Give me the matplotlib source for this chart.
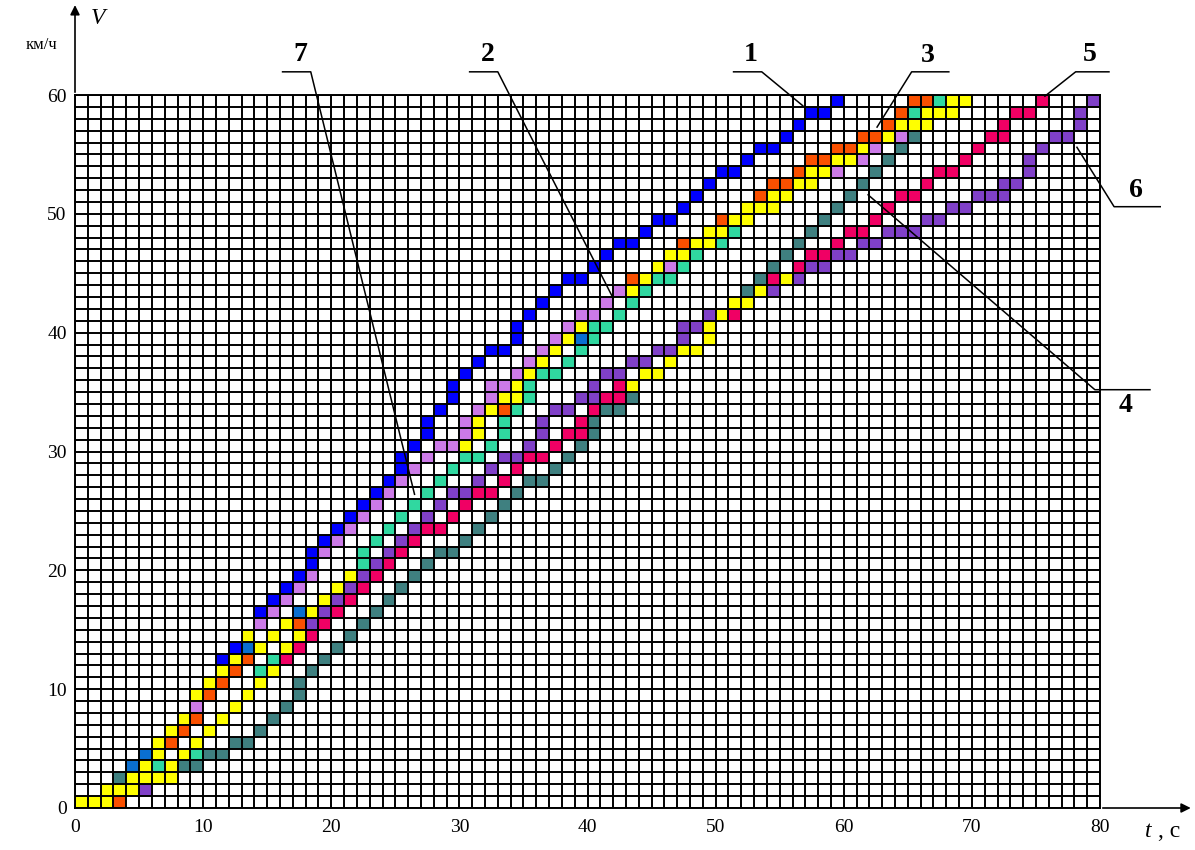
import matplotlib.pyplot as plt

plt.rcParams['font.family'] = ['Liberation Serif', 'DejaVu Serif']

# Coloured cells (t, V) = lower-left corner of each 1 s x 1 km/h square
s1_blue = [(11, 12), (12, 13), (14, 16), (15, 17), (16, 18), (17, 19), (18, 20), (18, 21),
           (19, 22), (20, 23), (21, 24), (22, 25), (23, 26), (24, 27), (25, 28), (25, 29),
           (26, 30), (27, 31), (27, 32), (28, 33), (29, 34), (29, 35), (30, 36), (31, 37),
           (32, 38), (33, 38), (34, 39), (34, 40), (35, 41), (36, 42), (37, 43), (38, 44),
           (39, 44), (40, 45), (41, 46), (42, 47), (43, 47), (44, 48), (45, 49), (46, 49),
           (47, 50), (48, 51), (49, 52), (50, 53), (51, 53), (52, 54), (53, 55), (54, 55),
           (55, 56), (56, 57), (57, 58), (58, 58), (59, 59)]
s2_violet = [(9, 8), (14, 15), (15, 16), (16, 17), (17, 18), (18, 19), (19, 21), (20, 22),
             (21, 23), (22, 24), (23, 25), (24, 26), (25, 27), (26, 28), (27, 29), (28, 30),
             (29, 30), (30, 31), (30, 32), (31, 33), (32, 34), (32, 35), (33, 35), (34, 36),
             (35, 37), (36, 38), (37, 39), (38, 40), (39, 41), (40, 41), (41, 42), (42, 43),
             (46, 45), (59, 53), (61, 54), (62, 55), (64, 56)]
s3_orange = [(3, 0), (7, 5), (8, 6), (9, 7), (10, 9), (11, 10), (12, 11), (13, 12), (17, 15),
             (33, 33), (43, 44), (47, 47), (50, 49), (53, 51), (54, 52), (55, 52), (56, 53),
             (57, 54), (58, 54), (59, 55), (60, 55), (61, 56), (62, 56), (63, 57), (64, 58),
             (65, 59), (66, 59)]
s4_teal = [(3, 2), (8, 3), (9, 3), (10, 4), (11, 4), (12, 5), (13, 5), (14, 6), (15, 7),
           (16, 8), (17, 9), (17, 10), (18, 11), (19, 12), (20, 13), (21, 14), (22, 15),
           (23, 16), (24, 17), (25, 18), (26, 19), (27, 20), (28, 21), (29, 21), (30, 22),
           (31, 23), (32, 24), (33, 25), (34, 26), (35, 27), (36, 27), (37, 28), (38, 29),
           (39, 30), (40, 31), (40, 32), (41, 33), (42, 33), (43, 34), (52, 43), (53, 44),
           (54, 45), (55, 46), (56, 47), (57, 48), (58, 49), (59, 50), (60, 51), (61, 52),
           (62, 53), (63, 54), (64, 55), (65, 56)]
s5_crimson = [(16, 12), (17, 13), (18, 14), (19, 15), (20, 16), (21, 17), (22, 18), (23, 19),
              (24, 20), (25, 21), (26, 22), (27, 23), (28, 23), (29, 24), (30, 25), (31, 26),
              (32, 26), (33, 27), (34, 28), (35, 29), (36, 29), (37, 30), (38, 31), (39, 31),
              (39, 32), (40, 33), (41, 34), (42, 34), (42, 35), (51, 41), (54, 44), (56, 45),
              (57, 46), (58, 46), (59, 47), (60, 48), (61, 48), (62, 49), (63, 50), (64, 51),
              (65, 51), (66, 52), (67, 53), (68, 53), (69, 54), (70, 55), (71, 56), (72, 56),
              (72, 57), (73, 58), (74, 58), (75, 59)]
s6_purple = [(5, 1), (18, 15), (19, 16), (20, 17), (21, 18), (22, 19), (23, 20), (24, 21),
             (25, 22), (26, 23), (27, 24), (28, 25), (29, 26), (30, 26), (31, 27), (32, 28),
             (33, 29), (34, 29), (35, 30), (36, 31), (36, 32), (37, 33), (38, 33), (39, 34),
             (40, 34), (40, 35), (41, 36), (42, 36), (43, 37), (44, 37), (45, 38), (46, 38),
             (47, 39), (47, 40), (48, 40), (49, 41), (54, 43), (56, 44), (57, 45), (58, 45),
             (59, 46), (60, 46), (61, 47), (62, 47), (63, 48), (64, 48), (65, 48), (66, 49),
             (67, 49), (68, 50), (69, 50), (70, 51), (71, 51), (72, 51), (72, 52), (73, 52),
             (74, 53), (74, 54), (75, 55), (76, 56), (77, 56), (78, 57), (78, 58), (79, 59)]
s7_mint = [(6, 3), (9, 4), (14, 11), (15, 12), (22, 20), (22, 21), (23, 22), (24, 23),
           (25, 24), (26, 25), (27, 26), (28, 27), (29, 28), (30, 29), (31, 29), (32, 30),
           (33, 31), (33, 32), (34, 33), (35, 34), (35, 35), (36, 36), (37, 36), (38, 37),
           (39, 38), (40, 39), (40, 40), (41, 40), (42, 41), (43, 42), (44, 43), (45, 44),
           (46, 44), (47, 45), (48, 46), (50, 47), (51, 48), (65, 58), (67, 59)]
# cells where several curves coincide
common_yellow = [(0, 0), (1, 0), (2, 0), (2, 1), (3, 1), (4, 1), (4, 2), (5, 2), (6, 2), (7, 2),
                 (5, 3), (7, 3), (6, 4), (8, 4), (6, 5), (9, 5), (7, 6), (10, 6), (8, 7),
                 (11, 7), (12, 8), (9, 9), (13, 9), (10, 10), (14, 10), (11, 11), (15, 11),
                 (12, 12), (14, 13), (16, 13), (13, 14), (15, 14), (17, 14), (16, 15),
                 (18, 16), (19, 17), (20, 18), (21, 19), (30, 30), (31, 31), (31, 32),
                 (32, 33), (33, 34), (34, 34), (34, 35), (43, 35), (35, 36), (44, 36),
                 (45, 36), (36, 37), (46, 37), (37, 38), (47, 38), (48, 38), (38, 39),
                 (49, 39), (39, 40), (49, 40), (50, 41), (51, 42), (52, 42), (43, 43),
                 (53, 43), (44, 44), (55, 44), (45, 45), (46, 46), (47, 46), (48, 47),
                 (49, 47), (49, 48), (50, 48), (51, 49), (52, 49), (52, 50), (53, 50),
                 (54, 50), (54, 51), (55, 51), (56, 52), (57, 52), (57, 53), (58, 53),
                 (59, 54), (60, 54), (61, 55), (63, 56), (64, 57), (65, 57), (66, 57),
                 (66, 58), (67, 58), (68, 58), (68, 59), (69, 59)]
common_blue = [(4, 3), (5, 4), (13, 13), (17, 16), (39, 39)]

series = [
    (common_yellow, '#ffff00'), (common_blue, '#0a6fd0'),
    (s1_blue, '#0000ff'), (s2_violet, '#cc7ae8'), (s3_orange, '#fa5000'),
    (s4_teal, '#3f8080'), (s5_crimson, '#f00064'), (s6_purple, '#8040c8'),
    (s7_mint, '#30d8a0'),
]

# curve labels: text position, leader polyline (x list, y list)
labels = [
    ('7', 17.6, 63.4, [16.2, 18.4, 26.5], [61.95, 61.95, 26.4]),
    ('2', 32.2, 63.4, [30.8, 33.0, 42.0], [61.95, 61.95, 42.9]),
    ('1', 52.7, 63.4, [51.4, 53.6, 56.8], [61.95, 61.95, 59.1]),
    ('3', 66.6, 63.3, [68.2, 65.3, 62.6], [61.95, 61.95, 57.3]),
    ('5', 79.2, 63.4, [80.7, 78.1, 75.7], [61.95, 61.95, 59.9]),
    ('6', 82.8, 52.0, [84.7, 81.1, 78.2], [50.6, 50.6, 55.6]),
    ('4', 82.0, 33.9, [83.9, 79.6, 61.9], [35.2, 35.2, 51.6]),
]

fig = plt.figure(figsize=(11.95, 8.5), dpi=100)
ax = fig.add_axes([75 / 1195, 42 / 850, 1025 / 1195, 713 / 850])
ax.set_xlim(0, 80)
ax.set_ylim(0, 60)

for cells, col in series:
    ax.bar([c[0] for c in cells], 1, width=1, bottom=[c[1] for c in cells],
           align='edge', color=col, linewidth=0, zorder=1)

# the square grid
ax.set_xticks(range(0, 81), minor=True)
ax.set_yticks(range(0, 61), minor=True)
ax.set_xticks(range(0, 81, 10))
ax.set_yticks(range(0, 61, 10))
ax.set_axisbelow(False)
ax.grid(which='both', color='black', linewidth=1.4)
ax.tick_params(which='both', length=0, labelsize=14)
ax.tick_params(axis='x', pad=8)
ax.tick_params(axis='y', pad=6)
for s in ax.spines.values():
    s.set_linewidth(1.4)

# axis arrows
arr = dict(arrowstyle='-|>', color='black', lw=1.2, mutation_scale=14)
ax.annotate('', xy=(0, 67.8), xytext=(0, 60), arrowprops=arr, annotation_clip=False)
ax.annotate('', xy=(87.3, 0), xytext=(80, 0), arrowprops=arr, annotation_clip=False)

ax.text(1.8, 66.4, 'V', fontsize=17, style='italic', ha='center', va='center')
ax.text(-2.6, 64.2, 'км/ч', fontsize=12, ha='center', va='center')
ax.text(83.8, -2.0, 't', fontsize=17, style='italic', ha='center', va='center')
ax.text(85.4, -2.0, ', c', fontsize=17, ha='center', va='center')

for txt, tx, ty, lx, ly in labels:
    ax.text(tx, ty, txt, fontsize=20, fontweight='bold', ha='center', va='center')
    ax.plot(lx, ly, color='black', lw=1.1, clip_on=False, zorder=4)

fig.savefig('out.png', dpi=100)
